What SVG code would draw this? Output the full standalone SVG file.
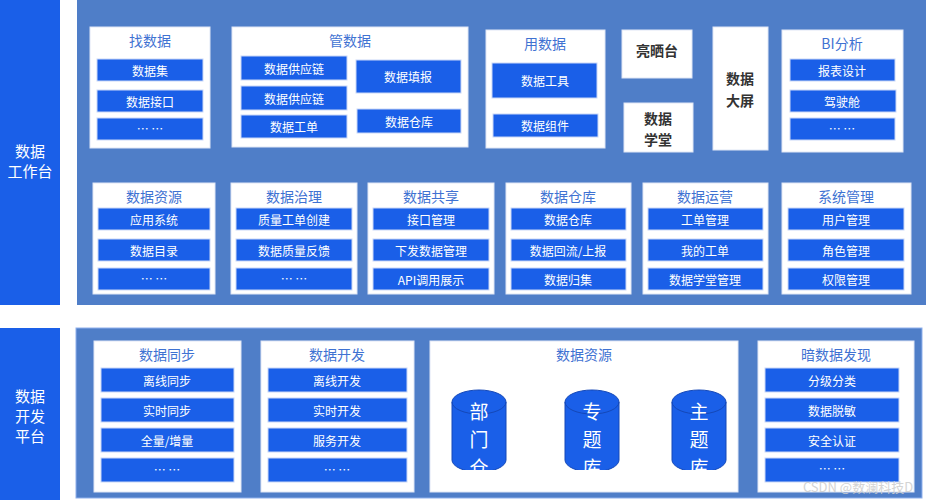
<svg xmlns="http://www.w3.org/2000/svg" width="926" height="500" viewBox="0 0 926 500">
<style>
text{font-family:"Noto Sans CJK SC","Liberation Sans",sans-serif;text-anchor:middle;dominant-baseline:central}
.bar{fill:#1a5fe8}
.panel{fill:#4f7ec8}
.box{fill:#fff;stroke:#dfe6f5;stroke-width:1}
.it{fill:#1a5fe8;stroke:#c9d8f7;stroke-width:1}
.itt{fill:#fff;font-size:12px}
.tt{fill:#3f72d2;font-size:14px}
.dk{fill:#333;font-size:14px;font-weight:bold}
.side{fill:#fff;font-size:15px}
.cyl{fill:#1a5fe8;stroke:#1448b8;stroke-width:1}
.ct{fill:#fff;font-size:19px}
</style>
<rect x="0" y="0" width="926" height="500" fill="#fff"/>
<g id="work">
<rect class="bar" x="0" y="0" width="60" height="305"/>
<text class="side" x="30" y="150">数据</text><text class="side" x="30" y="170">工作台</text>
<rect class="panel" x="77" y="0" width="849" height="305"/>
</g>
<g id="dev">
<rect class="bar" x="0" y="328" width="60" height="172"/>
<text class="side" x="30" y="395">数据</text><text class="side" x="30" y="415">开发</text><text class="side" x="30" y="435">平台</text>
<rect class="panel" x="76" y="328" width="846" height="170" stroke="#8fb0ec"/>
</g>
<g id="find"><rect class="box" x="90" y="27" width="120" height="121"/><text class="tt" x="150" y="40">找数据</text>
<rect class="it" x="97" y="59" width="106" height="22"/><text class="itt" x="150" y="70">数据集</text>
<rect class="it" x="97" y="90" width="106" height="22"/><text class="itt" x="150" y="101">数据接口</text>
<rect class="it" x="97" y="118" width="106" height="22"/><text class="itt" x="150" y="128">… …</text></g>
<g id="manage"><rect class="box" x="232" y="27" width="236" height="120"/><text class="tt" x="350" y="40">管数据</text>
<rect class="it" x="241" y="56" width="106" height="24"/><text class="itt" x="294" y="68">数据供应链</text>
<rect class="it" x="241" y="86" width="106" height="24"/><text class="itt" x="294" y="98">数据供应链</text>
<rect class="it" x="241" y="115" width="106" height="23"/><text class="itt" x="294" y="126">数据工单</text>
<rect class="it" x="356" y="60" width="105" height="33"/><text class="itt" x="408" y="76">数据填报</text>
<rect class="it" x="357" y="109" width="104" height="24"/><text class="itt" x="409" y="121">数据仓库</text></g>
<g id="use"><rect class="box" x="486" y="30" width="119" height="118"/><text class="tt" x="545" y="43">用数据</text>
<rect class="it" x="492" y="63" width="105" height="35"/><text class="itt" x="545" y="80">数据工具</text>
<rect class="it" x="493" y="114" width="105" height="23"/><text class="itt" x="545" y="125">数据组件</text></g>
<g id="show"><rect class="box" x="622" y="30" width="70" height="48"/><text class="dk" x="657" y="50">亮晒台</text></g>
<g id="school"><rect class="box" x="624" y="103" width="69" height="49"/><text class="dk" x="658" y="118">数据</text><text class="dk" x="658" y="139">学堂</text></g>
<g id="screen"><rect class="box" x="713" y="27" width="55" height="123"/><text class="dk" x="740" y="78">数据</text><text class="dk" x="740" y="100">大屏</text></g>
<g id="bi"><rect class="box" x="782" y="30" width="121" height="122"/><text class="tt" x="842" y="43">BI分析</text>
<rect class="it" x="790" y="59" width="105" height="22"/><text class="itt" x="842" y="70">报表设计</text>
<rect class="it" x="790" y="90" width="106" height="22"/><text class="itt" x="842" y="101">驾驶舱</text>
<rect class="it" x="790" y="118" width="105" height="22"/><text class="itt" x="842" y="128">… …</text></g>
<g id="res"><rect class="box" x="93" y="183" width="122" height="111"/><text class="tt" x="154" y="196">数据资源</text>
<rect class="it" x="98" y="208" width="112" height="22"/><text class="itt" x="154" y="219">应用系统</text>
<rect class="it" x="98" y="239" width="112" height="22"/><text class="itt" x="154" y="250">数据目录</text>
<rect class="it" x="98" y="268" width="112" height="22"/><text class="itt" x="154" y="278">… …</text></g>
<g id="gov"><rect class="box" x="231" y="183" width="126" height="111"/><text class="tt" x="294" y="196">数据治理</text>
<rect class="it" x="236" y="208" width="116" height="22"/><text class="itt" x="294" y="219">质量工单创建</text>
<rect class="it" x="236" y="239" width="116" height="22"/><text class="itt" x="294" y="250">数据质量反馈</text>
<rect class="it" x="236" y="268" width="116" height="22"/><text class="itt" x="294" y="278">… …</text></g>
<g id="share"><rect class="box" x="368" y="183" width="126" height="111"/><text class="tt" x="431" y="196">数据共享</text>
<rect class="it" x="373" y="208" width="116" height="22"/><text class="itt" x="431" y="219">接口管理</text>
<rect class="it" x="373" y="239" width="116" height="22"/><text class="itt" x="431" y="250">下发数据管理</text>
<rect class="it" x="373" y="268" width="116" height="22"/><text class="itt" x="431" y="279">API调用展示</text></g>
<g id="wh"><rect class="box" x="506" y="183" width="125" height="111"/><text class="tt" x="568" y="196">数据仓库</text>
<rect class="it" x="511" y="208" width="115" height="22"/><text class="itt" x="568" y="219">数据仓库</text>
<rect class="it" x="511" y="239" width="115" height="22"/><text class="itt" x="568" y="250">数据回流/上报</text>
<rect class="it" x="511" y="268" width="115" height="22"/><text class="itt" x="568" y="279">数据归集</text></g>
<g id="ops"><rect class="box" x="643" y="183" width="125" height="111"/><text class="tt" x="705" y="196">数据运营</text>
<rect class="it" x="648" y="208" width="115" height="22"/><text class="itt" x="705" y="219">工单管理</text>
<rect class="it" x="648" y="239" width="115" height="22"/><text class="itt" x="705" y="250">我的工单</text>
<rect class="it" x="648" y="268" width="115" height="22"/><text class="itt" x="705" y="279">数据学堂管理</text></g>
<g id="sys"><rect class="box" x="782" y="183" width="129" height="111"/><text class="tt" x="846" y="196">系统管理</text>
<rect class="it" x="788" y="208" width="116" height="22"/><text class="itt" x="846" y="219">用户管理</text>
<rect class="it" x="788" y="239" width="116" height="22"/><text class="itt" x="846" y="250">角色管理</text>
<rect class="it" x="788" y="268" width="116" height="22"/><text class="itt" x="846" y="279">权限管理</text></g>
<g id="sync"><rect class="box" x="94" y="341" width="147" height="151"/><text class="tt" x="167" y="354">数据同步</text>
<rect class="it" x="101" y="368" width="133" height="24"/><text class="itt" x="167" y="380">离线同步</text>
<rect class="it" x="101" y="398" width="133" height="24"/><text class="itt" x="167" y="410">实时同步</text>
<rect class="it" x="101" y="428" width="133" height="24"/><text class="itt" x="167" y="440">全量/增量</text>
<rect class="it" x="101" y="458" width="133" height="24"/><text class="itt" x="167" y="469">… …</text></g>
<g id="devx"><rect class="box" x="261" y="341" width="153" height="151"/><text class="tt" x="337" y="354">数据开发</text>
<rect class="it" x="268" y="368" width="139" height="24"/><text class="itt" x="337" y="380">离线开发</text>
<rect class="it" x="268" y="398" width="139" height="24"/><text class="itt" x="337" y="410">实时开发</text>
<rect class="it" x="268" y="428" width="139" height="24"/><text class="itt" x="337" y="440">服务开发</text>
<rect class="it" x="268" y="458" width="139" height="24"/><text class="itt" x="337" y="469">… …</text></g>
<defs><clipPath id="cc"><rect x="430" y="380" width="308" height="90"/></clipPath></defs>
<g id="dres"><rect class="box" x="430" y="341" width="308" height="151"/><text class="tt" x="584" y="354">数据资源</text>
<g clip-path="url(#cc)">
<path class="cyl" d="M452,402 v58 a27,12 0 0 0 54,0 v-58 a27,12 0 0 0 -54,0 a27,12 0 0 0 54,0"/>
<text class="ct" x="479" y="410">部</text><text class="ct" x="479" y="438">门</text><text class="ct" x="479" y="466">仓</text>
<path class="cyl" d="M565,402 v58 a27,12 0 0 0 54,0 v-58 a27,12 0 0 0 -54,0 a27,12 0 0 0 54,0"/>
<text class="ct" x="592" y="410">专</text><text class="ct" x="592" y="438">题</text><text class="ct" x="592" y="466">库</text>
<path class="cyl" d="M672,402 v58 a27,12 0 0 0 54,0 v-58 a27,12 0 0 0 -54,0 a27,12 0 0 0 54,0"/>
<text class="ct" x="699" y="410">主</text><text class="ct" x="699" y="438">题</text><text class="ct" x="699" y="466">库</text>
</g></g>
<g id="dark"><rect class="box" x="758" y="341" width="156" height="151"/><text class="tt" x="836" y="354">暗数据发现</text>
<rect class="it" x="765" y="368" width="134" height="24"/><text class="itt" x="832" y="380">分级分类</text>
<rect class="it" x="765" y="398" width="134" height="24"/><text class="itt" x="832" y="410">数据脱敏</text>
<rect class="it" x="765" y="428" width="134" height="24"/><text class="itt" x="832" y="440">安全认证</text>
<rect class="it" x="765" y="458" width="134" height="24"/><text class="itt" x="832" y="468">… …</text></g>
<text x="858" y="486" style="fill:#d0d0d0;font-size:13px;opacity:0.9">CSDN @数澜科技D</text>
<g id="connectors"/>
</svg>
